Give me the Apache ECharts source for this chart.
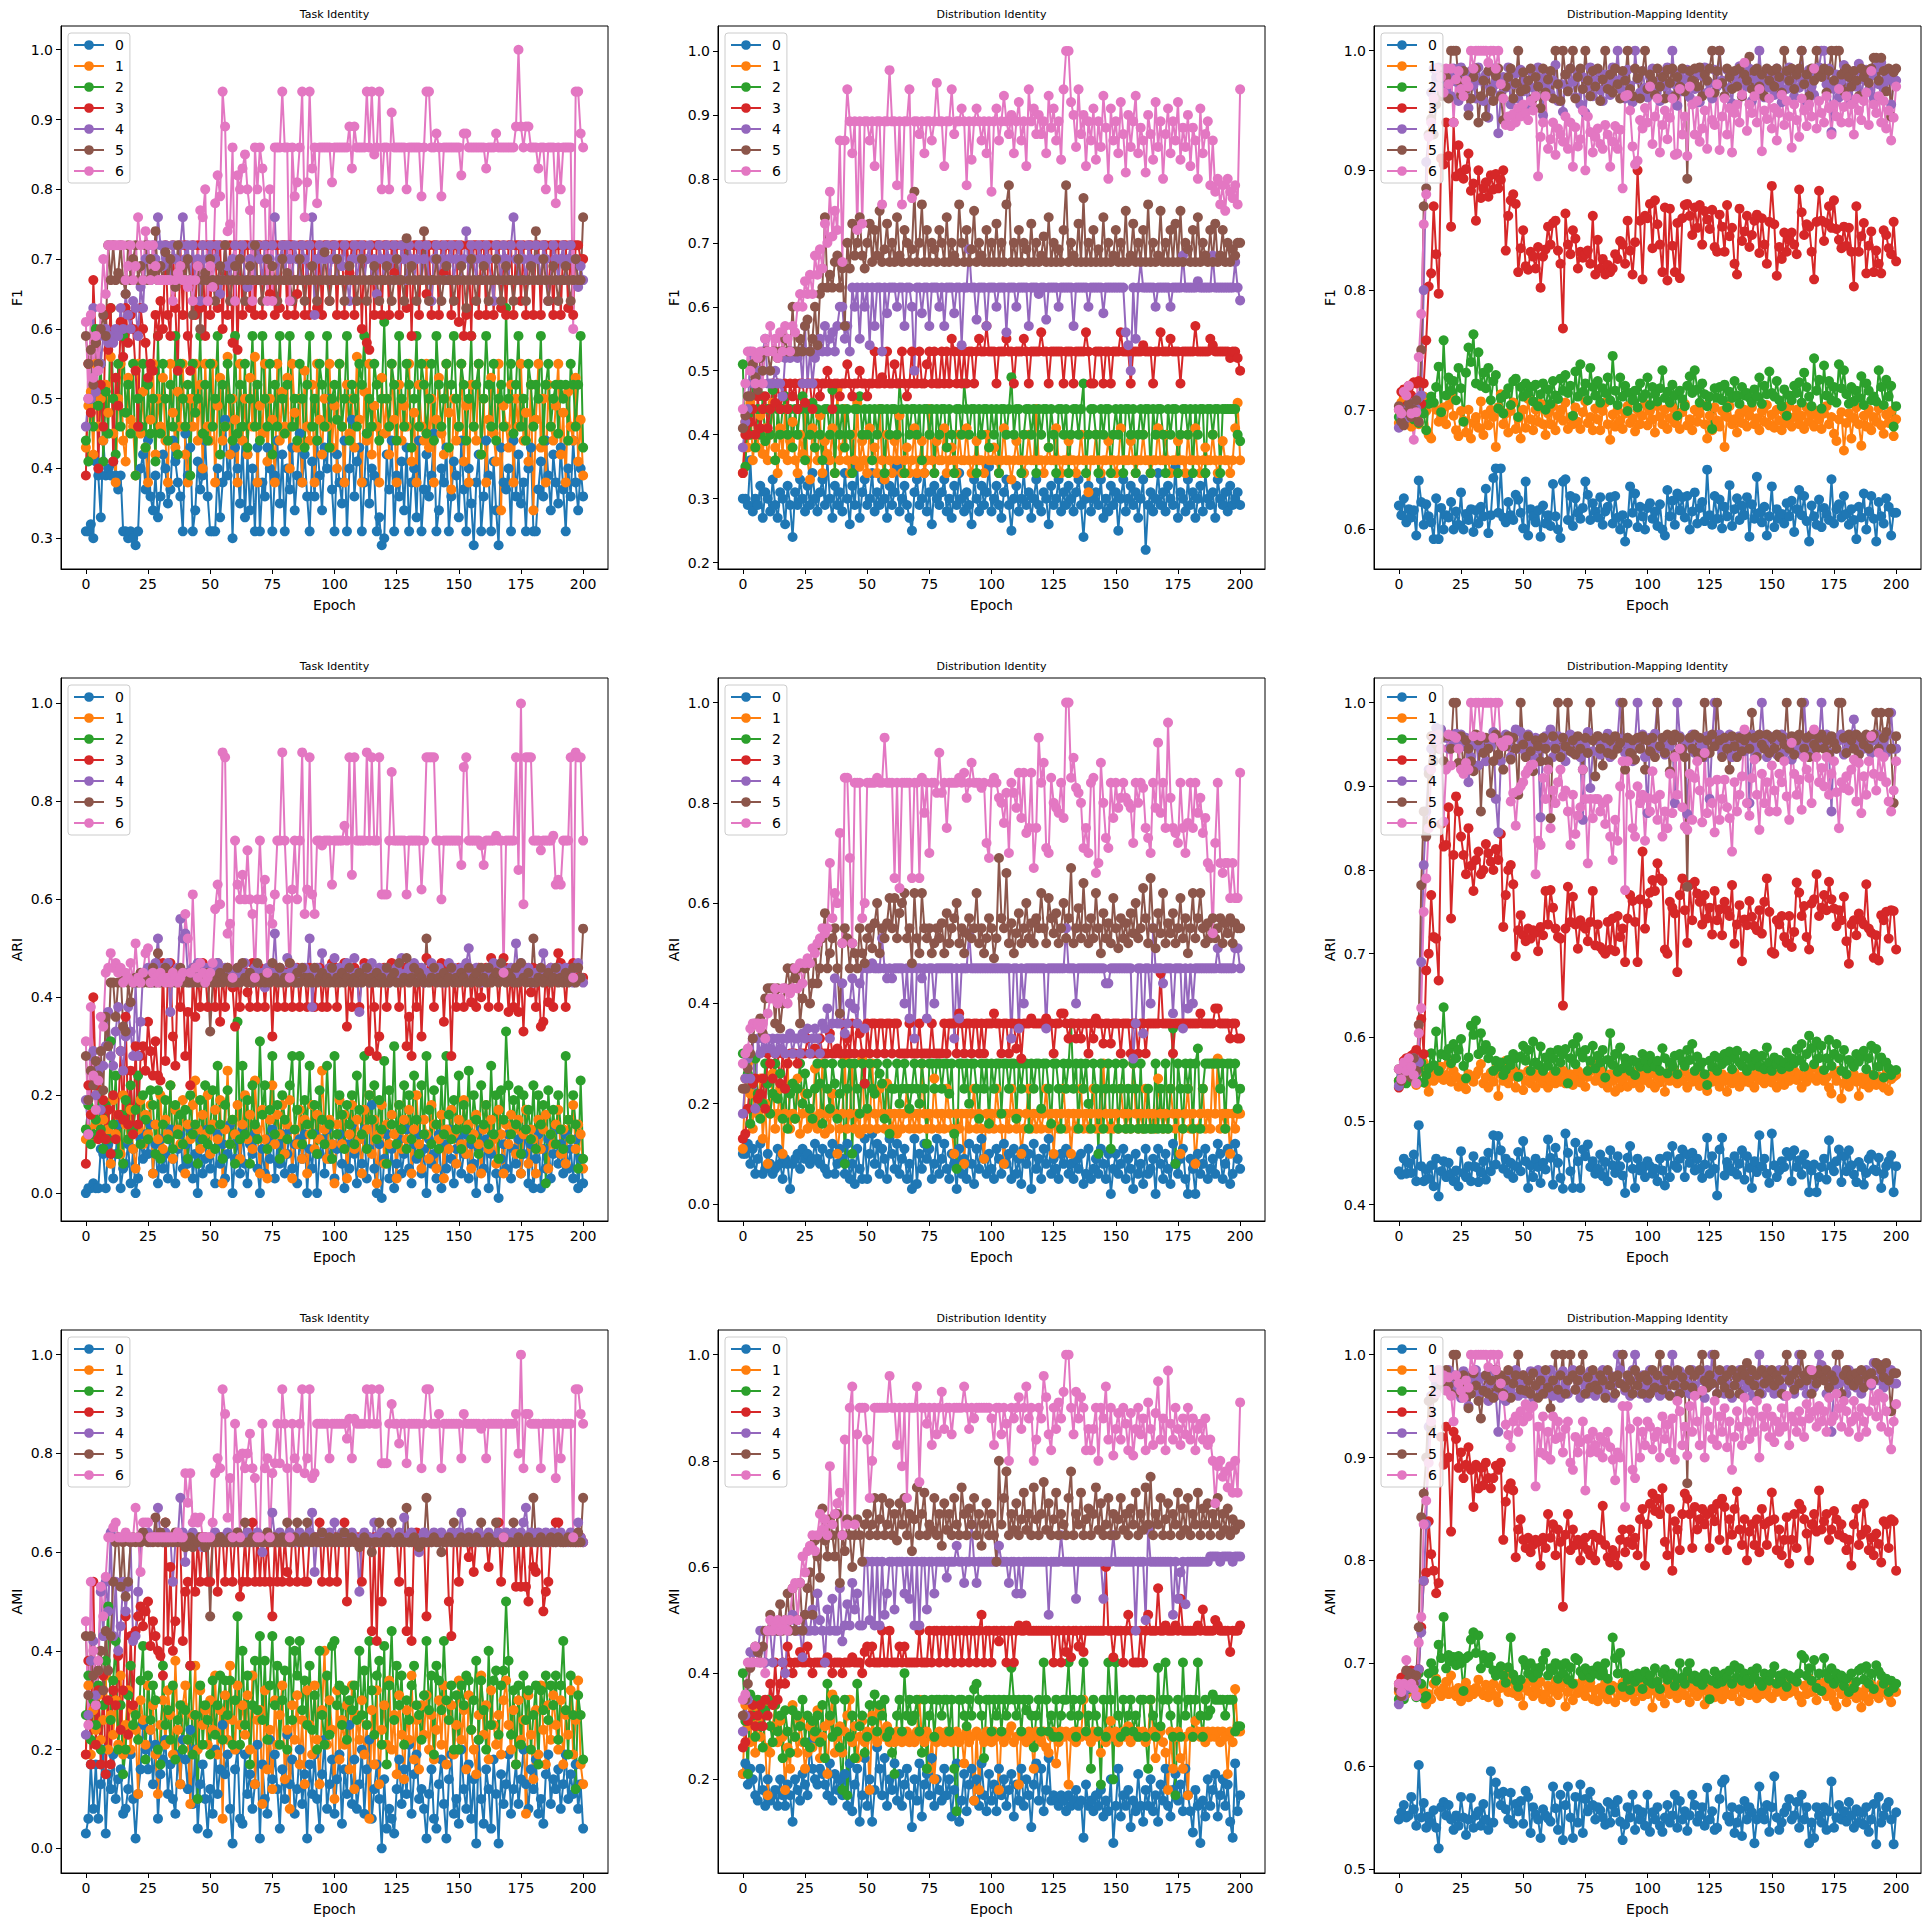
<!DOCTYPE html>
<html>
<head>
<meta charset="utf-8">
<title>Identity metrics per epoch</title>
<script src="https://cdn.jsdelivr.net/npm/echarts@6/dist/echarts.min.js"></script>
<style>
  html, body { margin: 0; padding: 0; background: #fff; }
  #chart { width: 1931px; height: 1927px; }
</style>
</head>
<body>
<div id="chart"></div>
<script>
// legend classes and tab10 colours
const classNames = ['0', '1', '2', '3', '4', '5', '6'];
const colors = ['#1f77b4', '#ff7f0e', '#2ca02c', '#d62728', '#9467bd', '#8c564b', '#e377c2'];

// tick labels
const xTicks = [0, 25, 50, 75, 100, 125, 150, 175, 200];
const ticksTaskF1 = [0.3, 0.4, 0.5, 0.6, 0.7, 0.8, 0.9, 1.0];
const ticksDistF1 = [0.2, 0.3, 0.4, 0.5, 0.6, 0.7, 0.8, 0.9, 1.0];
const ticksMapF1 = [0.6, 0.7, 0.8, 0.9, 1.0];
const ticksZeroToOne = [0.0, 0.2, 0.4, 0.6, 0.8, 1.0];
const ticksMapARI = [0.4, 0.5, 0.6, 0.7, 0.8, 0.9, 1.0];
const ticksDistAMI = [0.2, 0.4, 0.6, 0.8, 1.0];
const ticksMapAMI = [0.5, 0.6, 0.7, 0.8, 0.9, 1.0];

// one string per class, one value per epoch 0..200 (groups of ten epochs)
// Task / Distribution panels are in hundredths
const taskF1 = [
  "31 31 32 30 41 39 33 44 39 40, 39 41 39 37 39 31 31 30 31 30, 29 31 40 42 37 44 36 34 39 33, 36 42 40 35 37 44 41 38 36 31, 45 39 43 31 34 41 37 39 44 36, 31 31 31 40 33 38 47 39 42 30, 43 40 35 44 33 42 34 40 31 43, 31 38 36 43 40 31 39 44 35 42, 31 40 37 43 34 39 45 38 42 36, 31 41 36 44 39 34 43 40 50 37, 31 42 38 35 44 31 40 47 36 41, 43 31 38 45 35 40 39 31 33 29, 30 42 37 44 31 39 36 41 34 43, 31 38 40 33 44 31 37 42 36 39, 45 31 34 40 38 43 31 36 41 39, 33 44 37 31 40 35 29 38 42 31, 36 44 39 31 41 34 29 43 38 37, 40 31 44 36 42 35 38 31 40 43, 31 31 37 41 36 44 39 34 42 38, 35 43 37 31 40 36 44 38 34 40, 36",
  "43 49 51 42 55 46 50 44 52 48, 56 45 38 50 55 44 41 53 47 46, 39 55 45 51 43 38 47 55 42 50, 46 53 44 38 55 48 43 51 46 55, 42 38 50 46 55 44 52 40 55 46, 44 55 38 49 53 44 46 56 42 50, 47 38 55 44 50 42 53 46 56 38, 49 45 55 41 50 47 38 55 44 51, 46 53 40 55 48 43 50 38 54 46, 44 52 38 55 47 42 50 46 55 43, 49 40 55 46 38 52 45 50 43 56, 47 38 51 44 55 42 49 46 38 53, 45 50 42 55 47 38 52 44 49 46, 55 41 48 38 52 46 44 55 43 50, 38 47 53 45 42 55 48 37 50 44, 46 55 41 49 38 52 46 44 55 42, 50 38 47 53 45 41 55 34 49 46, 43 52 38 50 46 55 44 48 41 52, 34 47 55 43 50 38 52 46 44 49, 55 42 48 38 51 46 44 53 41 47, 39",
  "44 41 50 46 60 49 55 41 51 45, 63 50 42 55 46 59 48 52 45 55, 39 50 46 55 43 52 45 50 41 59, 45 55 50 44 52 46 59 42 55 50, 46 52 39 55 48 50 59 45 52 44, 55 46 50 59 42 52 46 55 50 44, 59 45 52 46 55 43 50 59 46 52, 44 59 50 46 55 42 52 46 59 50, 45 52 59 46 50 44 55 50 43 52, 59 46 50 44 55 52 46 59 43 50, 52 47 55 46 50 59 44 52 50 46, 55 52 59 45 50 46 55 52 44 50, 61 50 46 55 52 44 59 50 46 55, 52 43 50 59 46 55 52 45 50 55, 44 59 52 46 50 55 43 52 59 50, 46 55 52 44 50 59 46 52 55 42, 50 59 52 46 55 44 50 52 46 63, 50 55 45 52 59 46 50 44 55 52, 46 52 50 59 44 52 55 46 50 52, 45 52 50 52 44 55 52 46 52 59, 43",
  "39 55 48 67 58 40 52 46 62 57, 63 41 53 49 61 56 63 58 62 60, 54 46 63 60 58 53 55 54 62 59, 64 60 72 62 59 72 63 54 72 62, 72 59 54 72 62 72 63 72 59 72, 62 72 72 63 72 60 72 62 72 58, 72 57 72 62 72 72 63 72 62 72, 72 62 72 72 65 72 62 72 63 72, 72 62 72 72 62 65 72 72 62 72, 62 72 72 63 72 62 72 72 64 72, 72 62 72 72 62 72 68 72 62 72, 72 60 72 58 57 72 62 72 72 62, 72 72 62 72 68 72 62 72 72 63, 72 59 72 72 62 72 72 65 72 62, 72 72 62 72 68 72 72 62 72 72, 61 72 59 62 72 59 72 72 62 72, 72 62 72 72 62 72 72 63 72 62, 72 72 62 72 72 64 72 62 72 72, 62 72 72 62 72 72 64 72 62 72, 72 62 72 72 63 72 62 72 72 70, 70",
  "46 50 50 63 51 59 55 59 60 58, 59 58 60 59 63 60 65 62 60 64, 63 59 66 63 70 72 67 72 70 76, 72 69 72 70 67 72 70 67 72 76, 70 72 67 72 67 70 64 72 67 70, 72 67 70 72 65 67 72 69 67 70, 72 67 70 72 67 66 70 72 67 72, 70 67 72 67 70 72 76 67 70 72, 67 72 70 67 72 70 67 72 70 67, 72 76 62 70 72 67 70 72 67 70, 72 67 70 69 72 67 64 70 72 67, 70 72 67 70 72 67 70 65 72 70, 67 72 70 67 72 70 67 72 70 67, 72 70 67 70 72 67 70 72 67 64, 70 72 67 70 72 67 70 72 67 70, 72 67 70 74 67 72 70 67 72 70, 67 72 70 67 64 72 70 67 72 70, 67 72 76 70 67 72 70 67 72 70, 67 72 70 67 72 70 64 67 72 70, 67 70 72 67 70 72 67 70 66 69, 67",
  "59 55 57 52 58 55 60 62 59 72, 67 72 67 68 72 67 65 72 67 70, 72 67 69 67 72 67 70 68 74 67, 69 67 71 67 70 67 66 72 67 69, 67 70 67 62 67 69 60 67 68 67, 70 67 64 67 69 67 72 67 64 67, 69 67 70 67 64 67 69 67 72 67, 67 64 67 70 67 69 67 64 67 70, 67 68 67 64 67 67 70 67 64 67, 67 69 67 64 67 67 71 67 64 67, 67 70 67 67 64 67 69 67 67 64, 67 70 67 64 67 67 69 67 64 67, 67 69 67 64 67 70 67 67 64 73, 67 69 67 64 67 67 74 67 64 67, 67 70 67 64 67 69 67 67 64 67, 67 69 67 63 67 70 67 64 67 67, 69 67 64 67 67 70 67 64 67 69, 67 67 64 67 70 67 67 64 67 69, 67 74 67 67 70 67 64 67 69 67, 64 67 67 69 67 64 67 70 67 67, 76",
  "61 50 62 53 59 54 63 70 65 72, 72 72 72 72 72 72 67 69 72 67, 69 76 72 67 74 72 67 72 69 67, 67 67 67 67 67 64 67 68 69 67, 67 66 67 64 67 69 77 76 80 64, 69 66 78 82 79 94 89 74 75 86, 64 82 80 83 85 80 77 64 86 80, 86 83 78 64 80 64 86 86 86 94, 86 86 64 86 79 81 86 94 76 81, 94 83 86 78 86 86 86 86 86 81, 86 86 86 86 86 86 89 83 89 86, 86 86 86 94 86 94 85 86 94 80, 86 86 80 91 86 86 86 86 86 80, 86 86 86 86 86 79 86 94 94 86, 86 88 86 79 86 86 86 86 86 86, 86 82 88 88 86 86 86 86 86 86, 86 83 86 86 86 88 86 86 86 86, 86 86 86 89 100 89 86 89 89 86, 86 86 83 86 86 80 86 86 86 78, 86 80 86 86 86 86 60 94 94 88, 86"
];

const distF1 = [
  "30 30 29 36 28 30 29 32 27 31, 30 28 33 29 27 31 30 26 32 29, 24 31 29 33 30 28 32 29 34 30, 28 31 33 29 36 30 27 32 29 31, 28 34 30 26 32 29 35 27 31 33, 29 30 34 28 31 29 33 30 27 32, 29 31 35 28 30 32 29 27 25 31, 33 29 30 34 28 31 26 32 30 29, 31 33 28 30 27 32 29 34 30 28, 31 29 26 33 30 28 32 29 31 35, 28 30 32 29 27 31 33 29 25 30, 32 28 30 34 29 31 27 30 33 29, 28 31 30 26 32 29 30 33 28 31, 29 32 30 28 31 33 29 24 30 32, 28 30 31 29 33 27 30 28 32 29, 31 25 30 33 28 30 32 29 31 27, 30 33 22 29 31 28 30 34 29 31, 28 32 30 29 35 27 31 30 28 33, 29 31 27 30 32 28 34 30 29 31, 27 33 30 29 31 28 32 29 30 31, 29",
  "34 42 38 45 36 40 38 43 37 41, 36 40 45 38 34 41 37 44 36 39, 42 36 34 40 37 45 36 33 41 38, 36 43 34 39 37 36 41 34 47 36, 38 44 36 34 40 36 45 35 39 36, 34 41 36 38 34 44 36 33 40 36, 34 39 36 43 34 36 38 34 36 41, 34 36 39 34 36 44 36 34 39 36, 36 41 34 36 38 36 34 40 36 36, 41 36 34 36 39 36 36 34 40 36, 36 38 36 34 36 41 36 36 33 36, 39 36 36 34 36 40 36 36 44 36, 36 34 36 38 36 36 41 36 34 36, 36 39 36 36 34 36 40 36 36 31, 36 36 40 36 34 36 36 39 36 36, 34 36 41 36 36 36 39 36 34 36, 36 40 36 36 34 36 36 41 36 36, 40 36 34 36 36 39 36 36 34 40, 36 36 41 36 34 36 38 36 36 40, 36 34 36 39 36 36 34 36 41 45, 36",
  "51 35 43 40 48 38 44 40 46 39, 44 40 47 36 44 40 44 46 40 44, 38 44 40 44 46 36 44 40 45 38, 44 40 36 44 44 40 47 34 44 40, 44 38 44 40 34 44 44 46 40 44, 40 44 36 44 40 44 44 34 44 40, 44 44 40 48 44 34 44 40 44 44, 40 44 36 44 44 40 44 34 44 40, 44 44 38 44 40 34 44 44 40 48, 44 40 44 44 34 44 40 44 44 38, 44 40 44 34 44 44 40 44 49 40, 44 44 34 40 44 44 40 44 34 44, 40 44 44 38 44 40 34 44 44 40, 44 34 40 44 44 40 44 48 34 40, 44 44 40 34 44 40 44 44 34 40, 44 40 44 34 44 44 40 44 34 40, 44 40 44 44 34 44 40 44 44 40, 34 44 40 44 44 34 40 44 44 40, 44 34 44 40 44 44 34 44 44 40, 44 44 34 44 44 44 44 44 44 40, 39",
  "34 40 40 42 44 40 46 41 44 46, 41 44 48 45 48 44 46 48 44 48, 46 48 44 48 48 45 48 48 44 48, 48 46 48 48 50 48 44 48 48 46, 48 48 51 48 46 48 48 50 48 48, 46 48 48 53 48 48 49 48 53 48, 48 51 48 48 53 48 46 48 53 48, 48 53 48 48 51 53 48 53 48 48, 53 48 53 48 55 53 48 53 48 53, 48 53 53 48 53 55 53 53 57 53, 53 53 48 53 53 53 55 53 53 48, 53 53 53 55 53 48 53 53 53 53, 56 53 53 48 53 53 53 53 53 48, 53 53 53 48 53 53 53 53 56 53, 48 48 53 53 53 48 53 53 48 53, 53 53 56 53 53 53 48 53 53 53, 53 54 53 53 53 48 53 53 56 53, 53 53 55 53 53 53 48 53 53 53, 53 53 57 53 53 53 53 53 55 54, 53 53 53 53 53 53 52 53 53 52, 50",
  "38 42 44 53 48 48 50 48 53 55, 48 48 48 50 48 48 46 52 53 52, 53 53 52 53 48 57 48 53 48 52, 53 55 53 57 53 55 56 53 57 60, 60 55 57 53 63 60 63 55 63 60, 63 54 63 57 63 63 53 63 59 63, 63 63 60 63 63 57 63 63 60 50, 63 63 59 63 63 57 63 63 63 60, 63 57 63 63 63 59 63 63 54 63, 63 69 63 63 58 63 63 63 57 63, 63 63 60 63 63 63 56 63 63 63, 60 63 63 63 63 57 63 63 63 62, 63 63 58 63 63 63 63 60 63 63, 63 63 63 57 63 63 63 63 63 60, 63 63 63 63 63 59 63 63 63 63, 63 63 63 63 56 54 50 63 55 63, 67 63 63 63 63 63 60 63 63 63, 63 63 60 63 63 63 63 68 63 63, 63 63 63 64 63 63 63 63 63 68, 63 63 63 63 63 63 63 63 67 63, 61",
  "41 43 46 46 51 49 47 52 50 53, 53 50 53 53 52 53 53 55 53 53, 60 53 53 55 53 57 58 53 55 60, 54 62 63 74 63 65 63 67 68 63, 66 57 70 66 73 68 70 74 68 66, 70 73 67 72 68 75 67 69 73 67, 70 67 74 68 67 72 70 67 69 78, 67 70 76 67 72 67 70 69 67 72, 70 67 74 67 70 68 67 76 70 67, 72 67 69 75 67 70 68 67 72 67, 70 67 73 67 70 67 76 79 67 70, 67 72 67 70 69 67 73 67 70 67, 68 71 67 74 67 70 67 69 67 72, 79 67 70 68 67 73 67 77 67 70, 67 72 67 69 67 74 67 70 67 68, 72 67 70 67 75 67 68 73 67 70, 67 72 67 76 67 70 67 68 75 67, 70 67 72 67 73 67 75 67 70 69, 67 72 67 74 67 70 68 67 72 67, 73 67 68 72 67 70 67 69 68 70, 70",
  "44 48 53 50 53 48 52 53 48 55, 53 57 53 55 52 56 53 57 55 53, 57 56 60 62 60 64 62 65 62 68, 65 69 66 73 70 78 71 75 72 86, 67 86 94 89 84 89 72 89 73 89, 89 86 89 82 89 89 76 89 89 97, 89 89 79 89 76 89 89 94 77 89, 89 87 89 84 89 89 86 89 95 89, 89 82 89 89 94 87 89 89 91 89, 79 89 83 89 91 89 86 89 84 89, 78 89 91 86 89 93 89 87 90 84, 89 92 86 89 82 94 89 91 87 90, 87 89 84 93 88 91 86 89 83 94, 100 100 92 90 85 94 87 90 82 89, 86 91 83 89 85 93 88 80 91 86, 89 84 92 87 81 90 85 89 93 84, 88 86 81 90 87 83 92 85 89 80, 87 91 84 89 86 92 83 88 85 90, 82 88 86 80 91 84 87 89 79 86, 78 80 76 79 75 80 78 77 79 76, 94"
];

// Distribution-Mapping panels are in thousandths
const mapF1 = [
  "620 612 626 606 617 610 616 595 641 623, 604 621 611 606 592 626 592 618 600 612, 610 623 600 615 604 631 600 613 608 617, 598 616 605 619 611 634 597 612 643 651, 614 651 610 606 623 612 608 629 625 614, 601 640 595 617 611 606 616 594 620 605, 612 603 638 611 600 593 640 642 608 628, 603 626 614 609 618 640 629 608 622 615, 610 627 604 615 619 627 605 628 610 600, 612 590 605 636 614 630 602 619 611 600, 618 622 609 615 603 621 600 595 633 611, 624 604 630 616 627 610 628 600 615 631, 605 618 623 607 650 612 604 628 609 625, 601 619 611 637 603 617 626 608 620 612, 627 594 621 609 644 614 606 619 595 611, 636 602 617 609 613 605 622 611 624 598, 617 633 612 628 607 590 620 611 604 625, 602 618 613 608 642 605 617 621 610 628, 613 604 617 608 592 619 610 630 600 615, 628 609 590 623 611 605 626 619 595 614, 614",
  "689 706 710 692 700 686 695 701 688 697, 711 699 679 676 705 700 690 693 702 688, 704 711 695 683 678 699 691 681 700 676, 689 694 685 707 679 696 687 700 694 669, 702 713 688 697 681 699 706 684 693 676, 700 685 709 692 683 700 690 705 688 679, 697 688 703 683 695 700 691 706 684 694, 688 702 690 684 698 707 689 694 683 701, 692 683 699 706 688 675 696 686 700 691, 684 697 703 689 693 682 700 688 695 705, 687 699 692 681 703 694 688 700 684 693, 702 689 696 684 698 705 687 692 683 700, 690 697 704 688 676 695 683 702 691 686, 699 669 694 703 688 692 681 697 689 700, 686 695 702 688 693 683 699 690 704 687, 696 685 700 691 683 698 689 703 686 694, 700 688 695 684 702 690 696 686 699 692, 684 697 703 688 694 680 674 692 698 666, 689 697 676 693 702 688 670 695 686 700, 683 694 690 701 687 680 696 689 699 678, 692",
  "694 690 699 693 700 696 692 698 689 702, 697 683 705 711 706 719 736 698 758 712, 727 716 724 708 735 718 690 731 752 740, 763 722 748 720 731 718 735 708 724 729, 701 710 697 713 718 704 724 726 694 719, 711 722 714 719 707 721 703 713 722 700, 717 705 724 712 709 726 716 729 714 720, 695 732 711 738 715 722 708 735 719 712, 724 706 718 714 727 708 745 716 704 727, 711 720 699 714 708 716 702 722 710 713, 727 704 719 713 707 718 733 710 715 706, 721 712 695 716 709 703 720 728 714 733, 717 706 722 713 703 711 684 718 710 719, 708 721 702 715 710 724 712 705 719 712, 714 710 706 717 711 727 705 720 713 732, 714 711 724 708 703 717 695 712 708 720, 714 723 706 731 719 711 703 743 716 725, 701 737 712 724 708 719 706 738 718 733, 713 705 719 707 716 710 728 704 722 716, 708 711 707 733 719 704 725 711 720 686, 703",
  "700 715 717 703 720 712 723 722 724 705, 722 758 803 814 870 830 797 910 905 940, 912 853 940 895 921 898 893 901 914 883, 889 858 900 877 885 890 878 896 884 897, 885 892 900 833 862 875 880 872 815 835, 850 820 817 832 828 818 836 802 828 834, 853 838 856 858 833 822 768 864 838 830, 850 843 818 832 827 830 833 822 862 813, 842 818 826 813 821 815 818 830 826 841, 838 822 858 833 813 840 900 858 809 862, 860 872 835 875 855 838 815 869 808 868, 837 815 856 810 860 871 872 862 846 869, 852 871 838 866 859 851 867 836 832 863, 853 832 871 845 852 822 813 868 841 849, 862 836 846 858 863 831 860 838 822 857, 887 855 812 836 826 848 832 842 848 838, 830 884 865 846 855 853 832 809 857 883, 858 841 856 870 852 875 851 842 835 853, 837 852 832 803 870 832 845 856 814 837, 849 815 833 822 814 850 846 835 830 857, 824",
  "685 694 700 693 703 698 706 701 710 712, 800 907 930 965 985 978 986 982 975 968, 980 962 985 974 958 986 968 979 952 983, 971 960 986 975 958 980 944 968 985 972, 931 963 978 969 986 955 972 981 960 984, 966 975 951 983 969 962 986 977 946 970, 982 964 975 988 958 972 949 980 968 985, 974 961 982 955 978 948 970 986 962 975, 983 967 958 980 972 963 986 975 1000 968, 979 960 984 971 957 1000 976 965 983 969, 961 978 985 967 974 958 982 970 986 963, 1000 972 954 981 966 976 984 961 975 968, 982 957 979 986 965 973 960 984 970 1000, 975 962 984 969 956 980 973 987 962 976, 970 985 958 977 966 1000 973 961 983 969, 978 963 985 972 957 980 968 986 974 962, 981 969 1000 976 958 984 970 963 979 986, 1000 1000 972 985 932 968 980 961 975 988, 966 979 957 983 970 989 962 976 984 967, 979 961 986 972 990 968 975 980 955 974, 975",
  "703 690 687 698 705 694 700 708 690 750, 870 885 930 943 930 955 970 962 984 978, 960 1000 1000 1000 975 963 983 968 946 960, 978 985 940 962 975 945 983 966 958 979, 985 962 942 970 978 985 960 973 1000 966, 982 968 975 985 960 978 970 952 985 965, 976 983 960 1000 972 958 1000 980 966 985, 1000 960 978 985 968 1000 975 962 983 970, 985 958 976 1000 968 980 965 985 972 960, 983 975 1000 968 962 985 977 960 983 1000, 968 980 975 963 985 970 978 960 984 973, 985 962 978 970 985 966 893 983 975 985, 970 986 962 980 975 985 1000 965 983 1000, 973 962 985 978 968 983 970 985 962 980, 975 995 968 983 985 970 980 962 985 975, 983 970 985 978 965 1000 983 975 985 968, 980 985 1000 972 980 962 985 975 1000 980, 978 985 965 983 1000 975 1000 1000 980 966, 985 978 970 983 975 962 985 978 983 973, 985 994 994 975 994 983 966 985 945 982, 985",
  "700 697 715 712 720 697 675 698 744 780, 855 880 928 940 960 985 970 978 965 985, 972 985 940 976 983 968 962 975 970 1000, 985 1000 1000 1000 1000 1000 990 1000 1000 985, 1000 972 960 938 945 937 947 940 952 945, 955 948 942 958 950 962 895 928 940 962, 918 926 940 913 935 930 924 945 918 940, 903 936 920 926 950 900 945 932 915 928, 935 922 918 938 930 903 924 937 918 934, 885 962 963 950 920 905 908 942 935 952, 940 970 922 945 960 915 938 950 926 944, 960 913 914 968 930 945 912 970 955 930, 958 924 935 950 918 965 942 938 972 917, 945 960 930 952 915 948 955 940 963 990, 933 955 948 962 940 968 916 950 943 960, 935 952 925 948 963 938 958 945 919 955, 942 928 960 950 937 955 945 985 935 958, 948 940 962 952 930 955 945 968 940 953, 962 940 955 930 960 950 942 958 965 938, 983 955 948 962 940 958 935 950 925 944, 970"
];

const taskARI = [
  "0 1 1 2 1 1 9 8 1 10, 12 3 8 14 1 5 6 10 2 9, 0 3 11 7 12 8 14 4 10 2, 11 5 8 3 13 7 2 9 12 5, 10 6 13 3 8 0 11 4 7 13, 5 9 2 12 6 10 3 8 14 0, 7 11 4 13 6 2 10 8 12 5, 0 9 4 11 7 13 3 10 6 12, 4 8 13 5 10 2 11 7 12 0, 9 5 12 0 8 11 4 13 7 10, 3 9 12 6 1 10 5 14 8 2, 11 6 13 3 9 18 5 0 10 -1, 7 12 3 9 1 6 11 4 8 13, 5 2 10 7 12 4 9 0 11 6, 8 3 12 1 10 5 13 7 2 9, 11 4 8 12 3 10 6 0 9 13, 5 11 1 8 12 4 -1 7 10 5, 12 3 9 6 11 4 8 13 2 10, 1 7 12 1 9 5 11 3 8 13, 6 10 4 12 5 9 3 11 1 7, 2",
  "11 13 11 17 14 12 21 15 18 13, 6 19 12 16 8 20 14 11 17 9, 5 13 19 10 16 12 18 4 14 11, 20 9 15 12 22 7 17 13 10 19, 4 14 11 18 23 13 9 16 12 20, 8 14 17 11 19 2 13 25 10 15, 12 18 7 14 20 11 16 9 23 13, 4 17 11 3 15 22 10 16 12 18, 8 14 19 3 13 10 17 7 15 4, 12 18 9 16 11 25 13 7 15 10, 2 14 19 10 16 3 12 18 9 15, 11 4 17 13 20 8 15 2 12 18, 6 14 10 16 12 3 18 9 15 11, 17 4 13 20 10 5 15 12 7 18, 14 5 11 16 3 13 9 17 12 6, 15 10 19 8 14 5 12 16 10 4, 13 18 9 15 11 6 17 12 4 14, 10 16 13 8 15 4 12 17 6 13, 11 4 15 9 13 16 5 12 10 14, 17 8 13 6 15 11 18 9 14 12, 5",
  "13 18 10 12 15 20 13 9 18 11, 31 14 24 8 16 6 19 11 22 13, 17 24 10 20 15 11 21 18 8 21, 7 14 19 11 22 9 18 12 16 10, 17 7 20 12 14 6 19 11 22 10, 13 21 9 26 14 7 18 21 10 15, 6 35 11 26 12 19 6 22 14 11, 31 16 22 9 17 28 12 18 7 20, 15 11 22 28 13 17 28 10 19 14, 26 12 18 8 21 15 10 26 14 7, 28 12 20 16 9 18 14 20 10 24, 17 12 28 9 20 15 22 11 19 13, 27 6 21 14 30 10 18 13 22 9, 20 11 24 15 8 22 12 28 17 10, 21 14 9 23 12 28 16 11 19 13, 24 9 18 13 25 11 20 15 8 22, 14 18 10 26 12 20 7 21 15 33, 22 12 19 14 21 8 20 13 17 11, 22 9 20 14 18 2 21 12 17 10, 20 13 9 28 15 11 20 14 5 23, 7",
  "6 22 16 40 22 11 12 19 11 17, 8 20 11 16 29 15 36 14 25 12, 30 14 28 30 25 35 29 24 31 24, 23 47 27 45 47 32 26 45 38 45, 28 37 22 45 36 45 38 47 45 38, 45 46 38 47 35 45 38 46 45 42, 34 45 38 46 45 41 38 47 45 38, 46 45 38 45 46 32 45 38 46 45, 38 45 47 38 45 46 38 45 45 38, 46 45 38 45 46 38 45 38 46 47, 45 38 46 45 47 34 45 38 46 45, 38 45 47 46 29 45 38 28 32 45, 46 38 45 47 45 46 38 45 46 30, 36 28 45 38 46 32 45 48 45 46, 38 45 46 47 35 45 46 28 45 38, 46 45 38 45 46 39 45 38 46 40, 45 46 38 48 45 46 38 45 48 46, 37 45 38 46 37 45 33 46 45 41, 46 38 45 34 35 45 39 46 38 45, 49 47 45 38 46 45 47 45 44 44, 44",
  "19 12 28 29 20 25 17 26 30 37, 28 26 33 38 29 25 32 38 33 28, 43 28 35 45 44 46 45 43 47 52, 45 46 44 47 37 45 44 46 56 52, 53 45 43 46 44 47 45 44 46 45, 44 46 45 47 44 45 46 44 45 43, 45 46 44 45 47 44 45 43 46 45, 44 45 42 46 44 45 53 44 46 45, 44 48 45 44 46 43 45 44 46 45, 52 38 45 46 44 49 45 44 46 45, 48 44 46 45 44 47 45 44 48 45, 37 44 46 45 43 47 45 44 46 45, 44 46 43 45 44 46 45 48 44 45, 46 44 47 45 44 46 43 45 44 47, 45 44 46 45 43 44 47 45 46 44, 45 46 44 47 50 45 44 46 45 43, 45 44 46 45 47 44 45 46 44 45, 44 46 45 51 44 47 45 44 46 45, 43 45 44 46 49 45 44 46 45 44, 46 45 44 46 45 44 43 46 47 44, 43",
  "28 19 25 22 27 24 29 21 36 30, 43 43 36 43 45 34 33 43 39 43, 44 43 45 43 44 43 43 46 43 49, 43 44 46 43 43 45 43 44 46 43, 44 43 45 43 46 43 44 43 43 45, 33 43 44 43 45 43 44 46 43 44, 43 46 43 47 44 43 45 43 44 47, 43 44 43 45 43 47 44 43 46 43, 44 43 47 44 43 45 43 46 44 43, 44 43 46 43 44 45 43 44 43 46, 43 44 43 45 43 44 46 43 44 43, 45 43 44 46 43 44 43 45 43 44, 43 46 43 44 45 43 47 43 44 48, 43 44 46 43 45 44 43 52 43 44, 46 43 44 43 45 43 44 46 43 44, 43 45 44 43 46 43 44 45 43 46, 44 43 46 43 44 45 43 47 44 43, 45 44 43 46 43 47 44 43 45 43, 52 43 44 46 43 44 45 43 44 46, 43 44 43 45 43 44 46 43 46 44, 54",
  "31 12 38 24 17 23 36 34 45 46, 49 46 47 45 46 43 45 44 47 43, 51 44 43 45 49 50 43 45 44 43, 45 44 43 44 43 45 44 43 44 45, 57 52 45 61 46 44 47 45 43 44, 45 47 58 63 59 90 89 53 55 44, 72 63 60 65 60 70 60 57 44 60, 72 60 64 45 58 55 61 72 72 90, 72 60 44 62 72 60 72 90 57 62, 89 61 57 72 72 71 72 72 72 63, 72 72 72 72 75 72 89 65 89 72, 72 72 72 90 72 89 72 72 89 61, 61 61 72 86 72 72 72 72 72 61, 72 72 72 72 72 62 72 89 89 89, 89 72 72 60 72 72 72 72 72 72, 72 67 87 89 72 72 72 72 72 71, 67 72 72 72 72 73 72 72 45 72, 72 72 72 89 66 100 59 89 89 89, 72 72 72 70 72 72 72 72 73 63, 64 63 72 72 72 89 44 90 89 89, 72"
];

const distARI = [
  "10 10 12 8 11 6 9 12 6 7, 10 8 6 7 11 8 5 9 8 3, 8 9 10 7 11 9 10 8 9 12, 9 8 11 7 6 10 12 6 8 11, 9 6 12 5 8 4 11 7 5 13, 5 10 14 8 12 6 11 9 5 13, 10 7 12 6 9 11 5 8 3 13, 4 10 7 12 9 11 5 8 13 6, 9 12 7 5 10 8 3 11 6 9, 5 12 8 4 11 7 13 9 6 10, 7 5 11 9 6 12 8 10 5 11, 6 9 4 11 8 10 3 12 7 9, 5 11 8 13 6 9 7 5 10 8, 11 6 8 5 9 7 10 4 6 11, 5 7 9 6 11 8 5 10 2 7, 10 6 8 11 5 9 7 3 10 6, 8 4 11 6 7 9 2 11 8 5, 10 7 4 12 8 6 9 11 5 2, 9 7 2 10 6 8 11 5 7 9, 6 12 10 5 8 11 4 6 12 9, 7",
  "11 25 28 22 15 29 18 25 13 20, 8 18 26 15 18 23 10 18 28 15, 18 17 25 14 18 22 15 18 16 27, 15 18 28 14 18 15 22 18 10 15, 18 29 15 18 28 15 18 14 29 15, 18 15 28 18 15 23 18 15 24 18, 15 18 14 18 15 18 23 15 18 15, 18 15 28 18 15 18 15 25 18 15, 18 15 23 18 15 10 18 15 18 8, 18 15 18 23 15 18 15 9 18 15, 18 15 23 18 15 8 18 15 23 18, 15 18 10 15 18 23 15 18 15 18, 15 18 23 15 18 10 18 15 18 23, 15 18 10 18 15 18 23 15 18 15, 18 23 15 18 15 28 18 15 18 15, 18 15 23 18 15 18 15 28 18 15, 18 15 23 18 15 18 15 25 18 15, 18 15 23 18 15 18 10 15 18 23, 15 18 8 15 18 23 15 18 15 28, 18 29 15 18 15 18 10 18 15 18, 18",
  "30 28 26 16 24 29 22 17 20 28, 24 18 22 28 21 26 17 23 15 22, 24 17 23 28 20 26 22 19 17 23, 28 24 16 28 23 19 28 24 17 22, 28 8 23 28 10 28 23 18 28 24, 19 28 23 22 28 26 24 17 28 14, 23 23 28 20 23 28 23 19 23 28, 23 20 28 23 12 28 28 23 28 28, 23 28 28 22 28 14 7 28 28 23, 28 20 28 28 23 17 28 23 28 16, 28 23 28 28 18 28 28 23 28 28, 17 28 23 28 28 15 28 23 28 28, 19 28 28 23 16 28 28 23 15 28, 23 28 36 23 28 15 28 23 28 20, 15 28 23 10 28 15 23 28 11 23, 28 15 23 28 15 23 15 28 23 15, 28 15 15 23 15 15 28 15 23 15, 28 15 23 35 8 28 23 15 28 23, 28 15 28 31 15 23 28 28 28 28, 28 28 23 28 15 28 28 24 28 19, 23",
  "13 14 19 25 24 25 21 22 25 19, 30 28 25 30 30 24 30 23 28 30, 30 30 28 30 30 30 33 30 30 31, 30 33 30 30 30 34 30 30 31 30, 36 30 33 30 36 30 36 34 30 24, 36 30 36 36 30 36 36 30 36 36, 30 36 36 30 30 30 30 36 30 30, 30 36 30 30 30 30 36 30 30 30, 30 36 30 36 36 36 30 38 36 30, 36 36 30 36 36 30 36 30 36 36, 36 38 36 36 30 36 36 30 36 36, 31 36 29 36 36 36 37 36 36 36, 36 36 37 36 36 30 36 36 38 38, 36 33 36 36 33 36 33 36 36 30, 36 33 37 36 36 32 36 36 32 36, 36 36 30 36 36 36 30 36 36 30, 36 36 30 36 36 36 36 36 46 36, 36 36 36 30 36 36 36 36 36 36, 36 36 36 36 38 36 36 36 36 36, 39 39 36 36 36 36 33 36 36 33, 33",
  "18 25 29 25 33 19 33 30 33 31, 33 31 33 30 33 31 33 30 33 34, 30 33 33 30 34 33 35 30 33 35, 33 30 36 35 39 33 36 45 36 36, 44 34 36 40 45 39 36 44 47 35, 47 47 48 47 47 47 53 47 45 47, 45 47 47 47 47 40 47 37 47 33, 47 47 45 47 37 47 47 40 47 47, 47 47 47 47 47 33 47 37 47 47, 47 54 47 47 47 47 47 47 47 47, 47 47 47 47 47 47 47 47 33 47, 47 35 47 40 47 47 47 47 47 47, 47 47 35 47 47 47 47 47 47 47, 55 47 47 47 40 47 47 47 47 47, 47 47 47 47 47 47 44 44 47 47, 47 47 47 47 47 47 47 29 36 47, 47 34 47 47 40 55 47 47 47 44, 47 47 47 38 47 47 47 35 47 39, 47 40 47 47 47 47 47 47 47 47, 47 51 47 47 47 47 47 47 51 51, 47",
  "23 23 27 30 33 36 36 37 34 41, 43 43 43 36 43 35 40 43 47 43, 47 45 47 36 41 47 48 40 44 51, 44 47 53 58 47 50 53 55 47 38, 52 55 53 47 52 50 47 55 50 48, 53 55 51 56 60 50 55 53 56 61, 55 61 53 58 60 62 53 55 48 62, 53 50 62 55 53 55 50 52 55 53, 56 50 58 52 55 57 60 52 55 50, 54 57 53 55 62 52 55 50 53 57, 55 49 53 69 57 55 66 52 56 50, 54 58 52 55 60 53 56 52 57 55, 62 55 52 61 57 54 58 52 55 60, 53 57 67 52 55 59 53 64 55 52, 57 53 62 55 50 58 53 56 52 61, 55 51 57 53 56 52 58 54 60 53, 55 63 57 52 65 55 51 58 54 62, 52 56 54 58 52 55 61 53 57 50, 55 62 53 57 62 55 52 56 53 57, 53 55 57 52 56 54 57 52 56 55, 55",
  "28 30 31 35 36 36 36 35 36 33, 38 41 41 43 40 41 43 43 40 42, 43 47 43 48 44 48 49 48 51 50, 52 53 55 54 55 68 57 62 60 74, 52 85 85 69 52 84 84 84 57 60, 84 84 84 84 85 84 84 93 84 84, 84 65 84 63 84 84 84 84 65 84, 84 65 85 78 84 70 84 84 82 90, 82 84 75 84 84 84 84 85 84 86, 81 84 88 84 84 84 83 84 72 69, 84 85 84 81 80 76 82 70 84 82, 79 86 77 86 74 75 86 67 75 93, 84 88 71 70 85 80 79 78 84 77, 100 100 85 89 83 82 80 71 75 70, 84 85 66 68 88 80 73 71 84 77, 84 79 81 84 81 80 79 72 84 80, 84 83 75 73 70 84 79 92 78 84, 75 96 81 75 74 72 84 75 70 76, 84 75 84 78 81 74 77 68 67 54, 72 84 68 66 68 68 61 68 61 61, 86"
];

const mapARI = [
  "440 436 455 437 450 438 460 428 495 446, 428 442 431 447 422 455 410 440 452 433, 450 437 428 441 422 464 438 433 446 428, 458 445 427 439 452 430 462 440 483 448, 482 465 443 455 437 450 432 446 463 440, 476 452 420 447 433 455 445 426 450 442, 478 456 424 468 450 432 419 485 462 440, 420 474 452 420 466 458 472 445 452 437, 443 460 434 451 428 465 447 438 458 446, 435 414 456 470 443 420 455 441 446 433, 452 446 437 443 428 455 441 423 458 433, 470 447 444 455 466 433 460 450 462 441, 455 443 432 448 480 437 458 443 411 466, 480 435 451 444 440 458 436 449 465 430, 458 444 420 452 439 483 446 455 437 426, 485 447 433 441 452 445 463 458 428 465, 445 453 436 460 448 415 441 448 415 433, 445 455 430 477 446 440 452 466 427 458, 440 465 447 436 427 451 445 424 438 455, 460 442 440 456 420 437 446 452 459 415, 446",
  "548 545 560 553 555 567 550 543 558 562, 570 545 535 556 548 560 552 565 549 555, 570 547 560 553 541 550 545 538 556 552, 547 555 560 568 545 552 540 558 547 562, 530 556 548 572 545 553 560 540 553 556, 537 548 560 545 552 540 557 550 545 553, 540 548 556 545 553 547 560 545 552 556, 543 553 560 546 556 541 553 560 570 548, 552 560 545 553 540 556 548 535 552 540, 548 556 541 553 545 558 550 540 556 549, 553 545 558 540 553 546 552 535 557 548, 563 551 545 556 548 560 540 553 547 555, 548 542 556 550 536 553 547 560 549 541, 556 548 535 553 545 558 550 541 553 547, 556 546 552 540 558 549 553 545 556 550, 546 553 540 557 549 543 555 548 553 560, 549 556 540 553 547 560 552 565 548 555, 560 548 552 540 533 556 548 560 527 545, 553 541 549 556 547 530 552 544 551 540, 555 548 543 553 549 540 556 536 550 553, 555",
  "548 552 560 545 565 556 560 551 562 570, 546 555 563 581 567 607 560 580 636 578, 586 569 592 575 585 598 566 551 576 614, 603 620 580 605 585 591 575 584 560 572, 565 570 555 561 573 567 580 575 553 577, 590 572 585 560 595 570 567 589 560 576, 566 582 575 560 585 570 580 586 545 575, 592 568 600 582 576 585 560 572 590 563, 578 570 585 552 573 605 567 580 559 588, 563 575 567 560 573 555 570 565 580 572, 563 578 570 565 572 560 587 575 557 570, 565 578 556 580 572 566 585 573 592 560, 577 565 570 556 543 572 565 578 560 575, 568 580 572 583 562 575 584 570 566 578, 560 574 566 580 572 565 578 562 588 570, 560 576 568 573 562 570 582 565 575 569, 586 573 592 565 580 602 587 568 595 575, 590 561 575 597 566 580 592 575 560 585, 556 573 570 565 580 571 577 584 562 575, 590 555 586 565 576 552 570 563 555 560, 561",
  "540 562 572 575 566 578 580 585 570 622, 580 680 700 770 720 718 668 855 828 830, 875 742 818 888 870 840 818 795 850 805, 775 812 822 795 800 831 820 810 800 825, 812 843 732 770 800 806 783 697 728 746, 722 715 730 718 728 725 703 732 722 775, 735 776 755 730 720 718 638 730 780 738, 768 735 706 740 733 730 715 738 775 710, 735 708 704 700 738 705 742 703 745 720, 730 690 742 770 763 738 690 765 822 730, 760 773 788 775 808 790 787 705 700 762, 755 748 678 770 790 752 713 782 740 786, 772 762 735 770 742 755 723 775 740 753, 722 762 752 745 782 712 735 758 691 741, 734 763 744 733 728 752 724 762 790 750, 702 700 740 735 745 720 713 745 708 726, 785 773 745 757 720 705 760 765 795 745, 755 770 752 786 765 754 733 752 740 768, 715 688 735 740 722 748 740 735 783 730, 725 695 722 692 746 740 750 718 752 751, 705",
  "542 555 563 568 560 565 575 558 570 690, 806 870 920 945 960 970 965 968 962 958, 945 960 950 963 955 962 948 958 905 935, 950 960 925 945 958 930 955 948 965 885, 845 930 955 962 948 935 960 968 945 965, 955 940 962 950 935 958 945 863 952 960, 948 968 935 955 960 945 958 930 950 962, 940 958 952 935 860 948 965 898 942 955, 960 938 952 945 963 935 955 945 958 1000, 952 940 958 947 930 955 1000 945 962 935, 868 958 950 963 1000 945 955 938 960 948, 955 880 1000 960 942 955 867 950 962 940, 958 945 950 935 960 885 955 1000 948 962, 940 955 948 962 935 958 945 960 950 942, 955 880 962 948 940 958 1000 952 935 960, 945 958 938 955 962 940 958 947 932 955, 948 960 938 1000 952 945 958 940 962 955, 1000 948 962 940 870 958 945 955 962 938, 955 945 962 980 950 938 958 945 960 952, 940 955 962 945 958 950 940 962 988 945, 945",
  "562 548 556 570 565 552 575 560 615 782, 870 840 915 960 930 950 945 958 930 925, 960 945 1000 1000 928 960 920 955 945 930, 918 962 955 870 940 958 945 892 930 962, 938 955 920 948 960 932 958 945 890 1000, 950 935 960 942 918 955 948 930 958 945, 930 862 960 945 1000 935 958 948 1000 942, 955 938 960 945 920 958 940 1000 955 912, 960 945 925 958 940 955 938 960 945 952, 1000 920 958 940 955 932 958 945 960 920, 955 942 958 935 1000 948 958 940 962 918, 955 962 940 958 945 935 780 958 945 962, 940 958 935 1000 955 940 962 948 1000 955, 935 958 945 920 960 948 935 958 942 955, 960 945 988 958 935 962 950 945 962 940, 958 945 962 935 958 950 1000 945 960 938, 955 962 1000 945 958 935 962 950 945 958, 962 945 955 938 960 952 945 1000 1000 958, 940 962 955 945 962 938 958 950 962 945, 958 962 988 945 988 958 965 988 945 880, 960",
  "562 550 570 560 575 565 555 545 605 635, 750 790 850 920 960 955 962 945 858 920, 962 925 960 958 945 920 915 928 920 1000, 960 1000 1000 960 1000 1000 1000 1000 958 1000, 1000 952 948 955 955 882 892 853 895 900, 905 915 920 925 926 795 835 830 910 885, 920 850 895 880 905 920 888 895 870 830, 890 843 865 875 920 885 808 885 862 885, 885 870 880 855 885 840 812 860 835 900, 930 776 930 890 850 840 900 880 890 835, 886 870 918 885 860 890 840 870 850 915, 868 935 890 945 875 852 848 915 860 910, 930 895 857 940 868 905 880 845 908 860, 885 908 875 862 822 905 870 890 912 968, 880 865 910 932 890 848 915 880 905 870, 925 895 870 915 905 930 888 860 952 915, 890 908 872 935 920 910 880 968 935 905, 922 900 935 890 915 930 893 850 905 898, 912 895 920 932 882 928 868 912 890 930, 960 915 895 940 912 935 905 882 870 895, 930"
];

const taskAMI = [
  "3 6 17 8 17 6 13 20 3 15, 12 19 10 14 16 7 8 12 19 10, 2 11 16 25 20 16 24 13 21 6, 15 18 22 11 17 10 7 19 13 22, 18 12 24 9 20 4 13 17 10 3, 12 7 20 11 16 25 15 19 8 1, 16 20 6 5 19 11 15 8 13 21, 2 17 10 7 22 14 19 12 4 16, 10 23 13 18 7 12 20 9 15 2, 17 11 19 10 4 15 22 8 13 18, 7 14 19 5 16 11 25 9 18 8, 13 20 7 16 22 6 12 17 10 0, 14 4 8 6 3 12 18 9 16 11, 21 7 15 19 10 12 8 2 11 16, 6 4 13 18 9 2 14 19 7 10, 5 20 12 8 17 6 14 1 22 10, 5 16 12 4 18 11 1 15 9 13, 19 7 12 17 9 14 20 13 8 16, 12 18 7 10 5 15 19 9 14 12, 16 8 13 19 10 15 11 17 8 13, 4",
  "19 33 19 28 24 31 22 26 35 20, 27 23 30 21 35 19 25 32 20 28, 24 11 30 26 21 33 24 29 19 11, 25 30 21 32 27 19 38 24 13 29, 33 22 9 27 37 20 32 25 28 21, 30 24 35 19 28 6 31 22 37 26, 20 33 25 29 23 31 20 35 13 26, 28 9 32 16 24 12 30 21 27 33, 14 24 8 29 22 31 17 26 13 32, 25 19 33 22 13 28 40 21 30 24, 10 32 18 26 21 29 16 33 12 27, 22 30 19 25 6 28 17 32 13 24, 29 21 34 20 27 15 31 23 14 28, 22 35 18 26 16 29 23 31 20 27, 18 24 30 21 33 17 26 29 19 25, 34 22 28 16 31 24 20 15 27 35, 23 29 18 32 25 21 27 19 30 34, 25 20 28 17 30 22 26 7 31 23, 14 28 19 33 24 17 29 22 31 25, 20 30 17 27 23 32 19 26 34 17, 13",
  "27 35 22 30 25 33 20 29 38 49, 26 34 42 20 29 15 20 31 37 25, 27 22 34 41 18 35 26 33 30 20, 17 37 25 28 22 33 18 26 29 20, 28 22 37 19 27 10 33 21 29 26, 19 34 23 29 35 22 34 27 34 21, 30 47 21 40 25 35 17 29 38 28, 43 26 38 22 33 43 29 37 21 30, 36 20 42 26 40 35 42 28 34 25, 37 24 31 20 40 27 21 35 23 41, 42 29 33 25 32 22 30 28 33 26, 40 27 36 25 42 32 23 35 38 21, 41 17 33 44 26 37 29 35 21 30, 26 33 37 29 27 22 31 42 28 35, 19 37 34 28 42 30 26 33 20 31, 20 33 29 35 34 24 30 38 22 34, 28 20 40 25 34 36 23 33 36 50, 38 23 32 17 33 21 35 26 32 20, 27 33 17 32 28 35 26 33 29 35, 22 33 42 28 19 35 27 12 31 27, 18",
  "19 38 17 54 21 32 17 35 15 30, 17 32 29 39 24 32 47 23 43 29, 44 47 49 45 48 50 41 46 43 40, 39 35 66 42 57 40 46 63 62 42, 52 54 37 63 52 63 54 63 63 54, 54 63 63 52 63 63 54 63 63 54, 63 63 51 54 63 54 63 66 54 63, 54 63 54 63 54 47 63 54 63 54, 63 56 54 63 63 54 63 63 54 54, 63 63 63 63 66 54 63 63 54 63, 63 54 63 63 66 50 63 63 63 63, 63 54 63 63 63 44 63 42 63 50, 63 63 63 63 63 63 54 63 63 44, 52 42 63 64 63 63 63 47 63 63, 63 63 63 63 63 63 50 43 63 63, 54 63 63 63 59 63 56 63 63 63, 63 63 57 63 63 63 66 54 63 63, 63 63 63 53 63 53 63 53 50 63, 57 56 63 63 48 52 54 63 63 66, 66 63 63 63 63 63 63 63 62 63, 62",
  "23 27 38 42 31 36 52 43 54 48, 64 43 54 40 45 54 48 53 62 42, 43 52 62 64 63 64 62 63 63 69, 63 62 64 63 63 54 62 63 71 64, 58 63 62 64 62 63 62 61 63 62, 63 62 64 63 62 63 62 64 63 62, 63 64 62 63 62 64 63 62 63 64, 62 60 63 64 62 68 63 62 64 63, 62 63 64 62 63 62 64 63 62 63, 64 68 56 63 62 64 63 62 64 63, 66 62 63 64 62 63 62 64 63 62, 52 63 64 62 63 62 66 63 62 64, 63 62 64 63 62 63 64 62 67 63, 62 64 63 62 60 63 64 62 63 62, 64 63 62 64 63 62 63 64 62 63, 64 68 63 62 64 63 62 63 64 62, 63 62 64 63 62 63 64 62 63 64, 62 63 64 62 63 64 66 69 63 64, 62 63 64 62 63 64 62 63 64 62, 63 64 62 63 62 64 63 62 66 63, 62",
  "43 31 43 35 29 36 40 32 44 36, 43 54 62 63 53 62 51 54 62 63, 62 63 62 64 63 62 63 62 67 62, 64 62 66 62 63 62 64 62 63 62, 61 62 63 61 62 62 63 62 61 62, 47 62 62 62 63 62 62 62 63 62, 62 64 62 62 66 62 62 63 62 62, 63 62 62 64 62 62 63 62 62 63, 62 66 62 62 63 66 62 62 63 66, 62 62 63 62 62 64 62 62 63 62, 62 63 62 62 64 62 62 63 62 62, 61 62 63 62 62 60 62 62 66 62, 62 63 62 66 62 62 63 62 62 69, 62 62 63 62 61 62 62 71 62 62, 63 62 62 60 62 62 63 62 66 62, 62 63 62 62 63 62 62 63 62 66, 62 62 63 62 62 66 62 62 63 62, 62 62 66 62 63 62 62 62 63 62, 71 62 62 63 62 62 62 63 62 62, 63 62 62 62 63 62 62 62 64 62, 71",
  "46 25 54 40 29 38 53 47 55 63, 63 65 66 63 63 63 64 63 63 63, 69 63 56 66 66 66 63 63 63 63, 63 63 63 63 63 63 63 64 63 63, 76 70 76 66 67 66 67 63 63 63, 63 66 76 79 77 93 88 67 75 63, 86 79 63 80 77 80 84 77 75 63, 63 86 77 79 63 76 78 86 78 93, 86 77 63 86 79 77 86 93 76 79, 93 75 76 86 86 86 86 86 79 86, 86 86 86 86 86 83 87 79 87 86, 86 86 86 93 86 93 86 86 93 78, 78 78 86 90 86 86 82 86 86 78, 86 86 86 86 86 77 86 93 93 86, 86 86 88 77 86 86 86 86 86 86, 86 79 88 86 86 86 86 86 86 85, 86 79 86 86 86 86 86 86 63 86, 86 86 86 88 80 100 77 88 88 86, 86 86 86 77 86 86 86 86 86 75, 86 79 86 86 86 86 63 93 93 88, 86"
];

const distAMI = [
  "21 23 19 22 20 17 16 22 18 15, 20 16 17 18 15 20 17 15 19 17, 12 20 18 16 21 19 17 27 22 20, 19 22 21 19 17 23 16 21 18 20, 17 21 15 23 14 19 22 12 17 24, 15 20 12 18 26 22 17 24 15 20, 18 23 16 21 15 19 22 17 11 20, 16 23 13 19 21 17 24 15 20 18, 16 22 17 20 13 18 23 12 16 21, 14 19 22 16 20 15 23 17 14 21, 16 19 14 22 17 20 15 18 21 13, 19 16 22 15 20 17 11 19 23 16, 22 14 18 24 16 17 16 15 17 16, 14 17 15 16 18 15 16 9 19 15, 16 14 17 15 18 13 16 14 20 8, 15 22 13 17 15 18 11 16 14 21, 15 12 18 15 20 14 17 12 19 16, 22 15 13 18 21 16 19 14 22 17, 14 10 18 15 8 16 13 20 15 18, 21 13 17 20 15 19 12 9 23 14, 17",
  "21 34 30 27 33 25 31 28 34 26, 17 25 30 34 27 31 28 18 26 22, 34 28 25 31 27 22 25 30 26 28, 33 24 28 30 21 31 36 25 28 30, 25 29 32 35 27 30 24 28 31 27, 29 18 32 28 27 33 29 28 30 27, 28 27 29 28 27 28 29 27 28 27, 29 35 28 27 29 22 28 20 27 29, 28 27 29 28 27 28 29 27 28 23, 29 27 28 16 29 18 28 27 29 28, 27 29 28 18 29 27 28 29 30 27, 28 19 29 28 27 29 28 22 29 28, 27 29 26 25 28 29 23 27 29 28, 29 19 28 29 27 29 28 35 29 28, 27 29 28 29 25 28 27 29 31 28, 29 27 28 29 28 30 27 29 28 29, 28 29 27 28 35 29 24 28 29 27, 25 18 29 22 28 29 24 22 28 17, 29 28 31 29 28 29 27 29 28 29, 28 29 27 29 28 21 29 27 37 29, 29",
  "40 31 21 36 32 28 35 30 26 33, 35 30 27 34 29 32 24 33 29 25, 33 28 32 30 35 27 32 26 31 29, 32 27 34 24 38 32 28 35 29 26, 18 35 17 28 32 24 38 30 32 25, 28 34 31 36 29 34 32 35 28 29, 25 21 32 35 29 40 32 35 31 32, 35 29 25 35 22 32 35 28 35 35, 32 35 35 29 35 22 14 35 35 32, 30 35 32 37 38 35 32 24 35 35, 29 35 32 35 29 35 32 35 41 35, 32 35 29 35 33 35 32 26 32 35, 29 42 35 29 32 28 35 28 32 35, 35 42 32 35 28 32 35 42 29 32, 22 35 32 29 19 35 28 42 35 20, 42 32 28 35 29 32 35 29 32 28, 35 35 28 22 35 32 28 41 30 35, 42 35 32 28 17 35 28 42 32 35, 35 28 35 42 32 28 35 32 33 36, 35 35 35 35 32 35 35 35 29 30, 30",
  "26 27 31 32 34 30 32 34 30 35, 32 38 34 42 35 38 42 38 45 42, 40 42 42 44 42 42 45 42 40 42, 42 42 42 42 43 42 40 42 42 42, 40 42 42 42 43 42 42 42 40 44, 45 42 45 42 42 42 48 42 42 48, 42 42 42 45 42 45 42 42 42 42, 42 48 42 42 42 48 42 48 48 42, 48 48 42 48 48 42 48 48 42 48, 48 42 48 48 42 48 51 42 48 48, 42 48 48 46 48 48 42 48 48 42, 48 49 48 48 49 48 48 48 48 48, 48 48 48 48 48 42 48 48 42 48, 44 48 43 48 48 45 48 44 48 48, 48 48 48 48 48 48 60 48 48 43, 48 48 48 42 48 51 48 42 42 42, 48 42 48 51 48 48 48 56 48 48, 49 48 48 48 49 48 54 48 48 48, 48 48 48 49 48 52 48 48 48 48, 50 49 48 48 48 48 44 48 48 48, 49",
  "29 32 35 44 44 44 44 48 48 42, 48 48 42 48 48 48 42 40 48 50, 51 48 48 48 43 51 48 48 52 48, 55 50 48 42 52 48 54 48 48 56, 46 49 53 49 57 52 55 49 49 61, 61 50 61 49 61 49 61 51 55 61, 61 52 61 61 61 55 61 54 61 49, 61 49 61 61 52 61 61 55 61 61, 61 61 58 61 61 61 64 61 61 57, 61 61 68 61 57 61 61 61 61 61, 61 61 61 64 61 61 61 57 61 61, 55 61 55 61 61 61 61 61 61 61, 61 61 61 51 61 61 61 61 66 61, 61 61 61 61 54 61 61 61 61 61, 61 61 61 61 61 54 61 61 61 66, 61 61 61 61 61 61 61 61 48 61, 61 61 50 67 61 61 61 61 61 61, 61 61 61 51 61 54 59 61 53 61, 61 61 61 61 61 61 61 61 62 62, 62 62 61 62 62 62 62 61 62 62, 62",
  "32 35 38 41 42 45 44 42 45 48, 48 51 48 49 48 53 48 50 55 48, 56 48 50 57 48 51 56 59 51 65, 62 58 71 65 62 69 66 62 70 57, 66 63 69 66 60 66 69 66 61 68, 70 66 68 73 66 69 73 66 68 72, 66 70 65 72 68 73 66 70 63 69, 75 66 70 74 66 68 67 73 66 70, 64 72 67 70 66 73 68 66 75 70, 66 71 68 73 66 70 64 68 72 66, 70 66 61 80 68 73 78 66 70 67, 72 66 69 74 67 70 66 75 69 66, 70 76 67 72 66 69 74 66 70 68, 66 73 78 66 70 68 74 66 69 71, 66 70 75 67 72 66 68 73 66 70, 66 69 73 67 70 66 71 68 74 66, 70 67 75 68 77 66 70 68 73 66, 69 72 66 70 68 74 66 71 67 73, 66 70 68 74 66 71 68 72 66 70, 68 73 66 70 67 71 66 69 67 68, 68",
  "35 36 42 42 42 45 42 42 42 40, 48 50 48 49 50 48 49 50 48 50, 56 57 50 57 62 59 63 64 66 63, 66 70 67 69 66 79 68 70 72 74, 66 84 68 90 94 68 85 90 90 90, 84 73 80 90 90 90 90 90 90 96, 90 90 83 90 79 90 73 90 90 90, 94 76 90 90 87 90 83 90 85 90, 93 86 90 90 85 90 90 90 90 94, 90 86 90 88 90 90 90 90 90 90, 88 83 90 90 85 90 87 80 90 88, 90 92 86 90 94 88 90 80 84 90, 88 96 92 85 82 90 86 91 88 93, 100 100 90 85 93 88 92 90 82 86, 82 86 90 80 90 88 94 84 90 81, 86 89 84 90 87 82 89 81 86 90, 85 88 82 91 86 83 89 95 84 88, 82 97 87 84 90 86 83 88 85 90, 84 88 82 86 87 84 88 83 84 80, 72 79 80 77 78 75 79 74 80 74, 91"
];

const mapAMI = [
  "548 555 562 550 552 570 558 542 601 550, 564 540 551 545 557 540 520 560 565 552, 562 548 538 552 542 570 550 533 548 569, 540 552 556 542 563 548 538 595 545 584, 573 562 575 558 548 574 544 563 556 566, 544 576 570 535 560 553 548 530 558 552, 549 546 580 559 538 572 528 562 580 550, 530 570 545 582 535 568 556 575 562 548, 560 557 550 543 565 545 562 555 567 546, 528 543 560 550 572 538 558 548 555 542, 572 536 555 548 560 542 536 550 562 545, 552 572 540 566 548 556 537 552 572 562, 546 552 560 542 579 548 556 538 540 568, 584 587 551 546 560 535 545 558 532 566, 548 560 555 525 548 580 555 548 562 536, 560 590 550 538 545 555 560 568 548 552, 565 540 572 548 560 525 545 530 560 552, 545 560 538 556 585 540 550 562 548 556, 546 565 552 540 558 545 555 543 560 536, 548 563 524 570 545 552 560 565 548 524, 555",
  "672 668 675 670 677 673 681 669 674 678, 672 660 670 665 680 685 672 668 676 682, 670 688 673 668 676 663 670 681 667 674, 670 676 684 672 669 679 667 673 680 668, 662 676 680 690 672 683 671 678 668 676, 659 680 673 684 668 677 671 682 665 670, 678 662 674 683 669 676 681 658 672 677, 664 680 671 675 684 668 676 681 665 674, 663 676 670 681 665 673 678 662 676 669, 681 667 675 670 684 663 677 672 668 679, 670 676 657 673 682 668 675 661 678 670, 674 680 666 672 677 669 683 662 676 671, 668 678 673 660 684 671 676 667 680 672, 665 678 670 682 668 674 680 663 676 671, 678 669 684 672 666 677 670 683 675 668, 666 680 672 675 684 668 676 671 680 673, 682 668 662 678 670 685 672 677 664 679, 673 681 668 675 670 663 658 676 670 684, 662 675 670 679 666 672 657 668 676 663, 679 670 674 666 680 672 676 668 662 676, 672",
  "665 680 665 683 675 680 685 667 690 680, 666 668 690 700 693 683 718 705 745 695, 708 702 706 698 707 700 673 705 707 723, 730 710 727 695 708 704 700 706 693 688, 693 697 688 681 696 725 689 683 677 684, 703 698 690 700 686 695 690 696 703 710, 688 695 693 700 685 698 690 700 684 696, 680 705 703 692 688 695 692 686 693 690, 697 688 692 700 685 674 725 705 690 710, 677 690 684 674 688 682 690 686 675 692, 683 688 680 695 682 675 690 694 684 688, 690 678 685 700 686 680 692 700 685 688, 682 686 679 690 685 665 683 692 680 688, 682 690 686 693 680 698 686 695 683 690, 684 680 692 686 695 682 678 690 686 683, 690 697 680 688 682 690 677 688 685 686, 682 690 708 705 688 695 683 703 676 690, 673 705 690 685 695 680 690 685 688 678, 685 672 690 676 682 693 695 684 697 680, 690 675 698 692 688 680 685 672 683 676, 680",
  "680 686 682 692 685 693 688 690 694 735, 780 788 838 806 790 768 778 920 893 930, 900 828 925 918 890 905 880 893 910 888, 852 893 870 890 873 895 880 870 880 892, 888 895 820 857 870 875 868 803 830 840, 820 812 822 808 815 820 818 795 822 812, 845 822 835 805 830 818 755 825 845 810, 830 815 820 800 815 822 810 805 825 800, 822 820 853 815 803 798 810 805 795 820, 830 808 818 830 815 822 805 840 850 795, 835 855 865 848 860 845 870 818 805 850, 790 838 830 810 845 865 860 845 812 852, 830 840 850 835 845 812 850 838 855 820, 860 852 810 840 825 850 867 830 815 840, 800 828 835 815 840 808 850 835 815 838, 866 840 810 830 805 820 842 797 820 845, 812 855 850 840 826 800 835 845 828 868, 830 838 845 820 830 848 840 825 835 822, 810 820 795 835 850 815 825 855 830 810, 822 805 826 816 798 838 835 812 840 838, 790",
  "660 672 668 675 678 684 690 682 694 730, 780 835 930 960 978 972 985 978 980 968, 985 970 980 965 978 958 984 970 950 980, 972 985 962 978 966 980 955 972 985 960, 925 968 978 955 982 966 975 985 960 972, 980 962 975 984 958 970 985 966 978 962, 975 985 960 972 980 958 984 970 962 978, 985 966 975 958 980 970 962 984 975 960, 978 968 985 962 975 980 958 972 1000 985, 1000 965 978 960 985 1000 975 962 980 970, 958 985 975 966 980 960 972 985 962 978, 1000 975 960 984 968 980 972 962 985 970, 962 980 975 958 985 970 1000 978 962 980, 975 962 985 970 958 980 972 985 962 975, 968 984 960 978 970 1000 962 975 985 968, 980 962 975 985 968 960 978 985 972 962, 985 1000 970 978 962 985 975 968 980 1000, 990 978 962 975 925 968 985 972 980 975, 962 985 970 978 968 980 962 975 985 972, 970 992 985 975 990 968 982 975 985 972, 972",
  "675 668 680 693 685 690 680 688 735 842, 865 900 955 930 958 965 980 968 975 985, 970 962 1000 1000 975 962 980 968 948 962, 982 970 955 938 965 980 962 975 958 985, 968 980 962 975 985 958 972 980 1000 966, 980 965 975 962 982 970 958 975 962 985, 968 948 975 1000 966 980 1000 962 975 1000, 980 966 975 985 1000 962 978 968 985 970, 966 980 975 958 985 970 978 962 980 972, 1000 968 980 975 962 985 970 978 962 980, 975 962 985 968 980 1000 966 975 985 960, 980 970 985 962 978 970 875 985 968 980, 962 985 1000 975 968 980 972 1000 962 985, 975 968 980 962 985 970 978 962 985 980, 992 975 985 970 980 962 985 972 980 975, 985 970 980 975 962 985 1000 975 980 966, 985 972 1000 980 975 985 962 980 972 985, 980 975 985 968 980 975 1000 1000 962 980, 985 975 980 970 982 975 985 968 980 975, 982 975 992 990 985 978 992 975 945 982, 982",
  "680 672 680 703 678 680 675 668 720 745, 835 858 895 935 978 962 985 975 980 965, 978 960 935 980 972 965 958 975 968 1000, 985 1000 1000 1000 1000 1000 988 1000 1000 985, 1000 972 960 932 922 910 935 940 925 945, 935 952 940 948 950 872 930 905 940 902, 925 898 940 918 935 920 905 928 935 895, 888 920 905 915 935 868 918 905 925 912, 905 920 900 915 925 910 898 878 905 900, 950 852 950 928 888 880 935 900 925 912, 935 930 908 920 925 900 940 918 932 905, 938 898 955 945 912 930 902 950 925 960, 935 912 965 900 945 930 918 955 912 940, 925 948 910 935 888 920 945 930 912 958, 935 918 945 925 955 900 940 930 948 920, 940 915 935 925 948 930 960 912 940 935, 925 945 935 920 952 938 985 945 930 950, 935 945 925 958 935 940 962 948 930 955, 945 925 935 955 940 920 948 935 925 945, 972 955 940 962 930 958 945 925 908 935, 952"
];

// figure layout (matplotlib-like 3x3 subplots)
const colLeft = [61, 718, 1374];
const rowTop = [26, 678, 1330];
const plotW = 547;
const plotH = 543;

const panels = [
  { title: 'Task Identity', yName: 'F1', values: taskF1, scale: 100, yMin: 0.256, yMax: 1.034, ticks: ticksTaskF1 },
  { title: 'Distribution Identity', yName: 'F1', values: distF1, scale: 100, yMin: 0.19, yMax: 1.039, ticks: ticksDistF1 },
  { title: 'Distribution-Mapping Identity', yName: 'F1', values: mapF1, scale: 1000, yMin: 0.567, yMax: 1.0206, ticks: ticksMapF1 },
  { title: 'Task Identity', yName: 'ARI', values: taskARI, scale: 100, yMin: -0.057, yMax: 1.052, ticks: ticksZeroToOne },
  { title: 'Distribution Identity', yName: 'ARI', values: distARI, scale: 100, yMin: -0.034, yMax: 1.049, ticks: ticksZeroToOne },
  { title: 'Distribution-Mapping Identity', yName: 'ARI', values: mapARI, scale: 1000, yMin: 0.3805, yMax: 1.0295, ticks: ticksMapARI },
  { title: 'Task Identity', yName: 'AMI', values: taskAMI, scale: 100, yMin: -0.05, yMax: 1.05, ticks: ticksZeroToOne },
  { title: 'Distribution Identity', yName: 'AMI', values: distAMI, scale: 100, yMin: 0.0235, yMax: 1.0465, ticks: ticksDistAMI },
  { title: 'Distribution-Mapping Identity', yName: 'AMI', values: mapAMI, scale: 1000, yMin: 0.496, yMax: 1.024, ticks: ticksMapAMI }
];

const parse = (str, scale) => str.trim().split(/[\s,]+/).map(v => Number(v) / scale);

const font = 'DejaVu Sans';
const chart = echarts.init(document.getElementById('chart'), null, { renderer: 'svg' });

const grids = [], xAxes = [], yAxes = [], legends = [], titles = [], series = [];

panels.forEach((p, i) => {
  const left = colLeft[i % 3];
  const top = rowTop[Math.floor(i / 3)];

  grids.push({
    left: left, top: top, width: plotW, height: plotH,
    show: true, borderColor: '#000', borderWidth: 1, backgroundColor: '#fff',
    containLabel: false, outerBoundsMode: 'none'
  });

  xAxes.push({
    type: 'value', gridIndex: i, min: -10, max: 210,
    name: 'Epoch', nameLocation: 'middle', nameGap: 29,
    nameTextStyle: { fontSize: 14, color: '#000', fontFamily: font },
    axisLine: { show: true, onZero: false, lineStyle: { color: '#000', width: 1 } },
    axisTick: { show: true, length: 5, customValues: xTicks, lineStyle: { color: '#000', width: 1 } },
    axisLabel: { customValues: xTicks, fontSize: 14, color: '#000', margin: 8, fontFamily: font },
    splitLine: { show: false }
  });

  yAxes.push({
    type: 'value', gridIndex: i, min: p.yMin, max: p.yMax,
    name: p.yName, nameLocation: 'middle', nameGap: 37, nameRotate: 90,
    nameTextStyle: { fontSize: 14, color: '#000', fontFamily: font },
    axisLine: { show: true, onZero: false, lineStyle: { color: '#000', width: 1 } },
    axisTick: { show: true, length: 5, customValues: p.ticks, lineStyle: { color: '#000', width: 1 } },
    axisLabel: {
      customValues: p.ticks, fontSize: 14, color: '#000', margin: 8, fontFamily: font,
      formatter: v => v.toFixed(1)
    },
    splitLine: { show: false }
  });

  titles.push({
    type: 'text', x: left + plotW / 2, y: top - 12,
    style: { text: p.title, fontSize: 11, fill: '#000', fontFamily: font, textAlign: 'center', textVerticalAlign: 'middle' }
  });

  legends.push({
    data: classNames, orient: 'vertical', left: left + 7, top: top + 7,
    itemWidth: 30, itemHeight: 12, itemGap: 7,
    padding: [5, 6, 5, 5],
    backgroundColor: 'rgba(255,255,255,0.8)', borderColor: '#cccccc', borderWidth: 1, borderRadius: 3,
    textStyle: { fontSize: 14, color: '#000', fontFamily: font, padding: [0, 0, 0, 6] },
    selectedMode: false
  });

  p.values.forEach((str, k) => {
    series.push({
      name: classNames[k], type: 'line', xAxisIndex: i, yAxisIndex: i,
      data: parse(str, p.scale).map((v, epoch) => [epoch, v]),
      symbol: 'circle', symbolSize: 10, showSymbol: true,
      itemStyle: { color: colors[k] },
      lineStyle: { color: colors[k], width: 2 },
      emphasis: { disabled: true },
      silent: true
    });
  });
});

chart.setOption({
  animation: false,
  backgroundColor: '#fff',
  textStyle: { fontFamily: font },
  grid: grids,
  xAxis: xAxes,
  yAxis: yAxes,
  legend: legends,
  graphic: titles,
  tooltip: { show: false },
  series: series
});
</script>
</body>
</html>
